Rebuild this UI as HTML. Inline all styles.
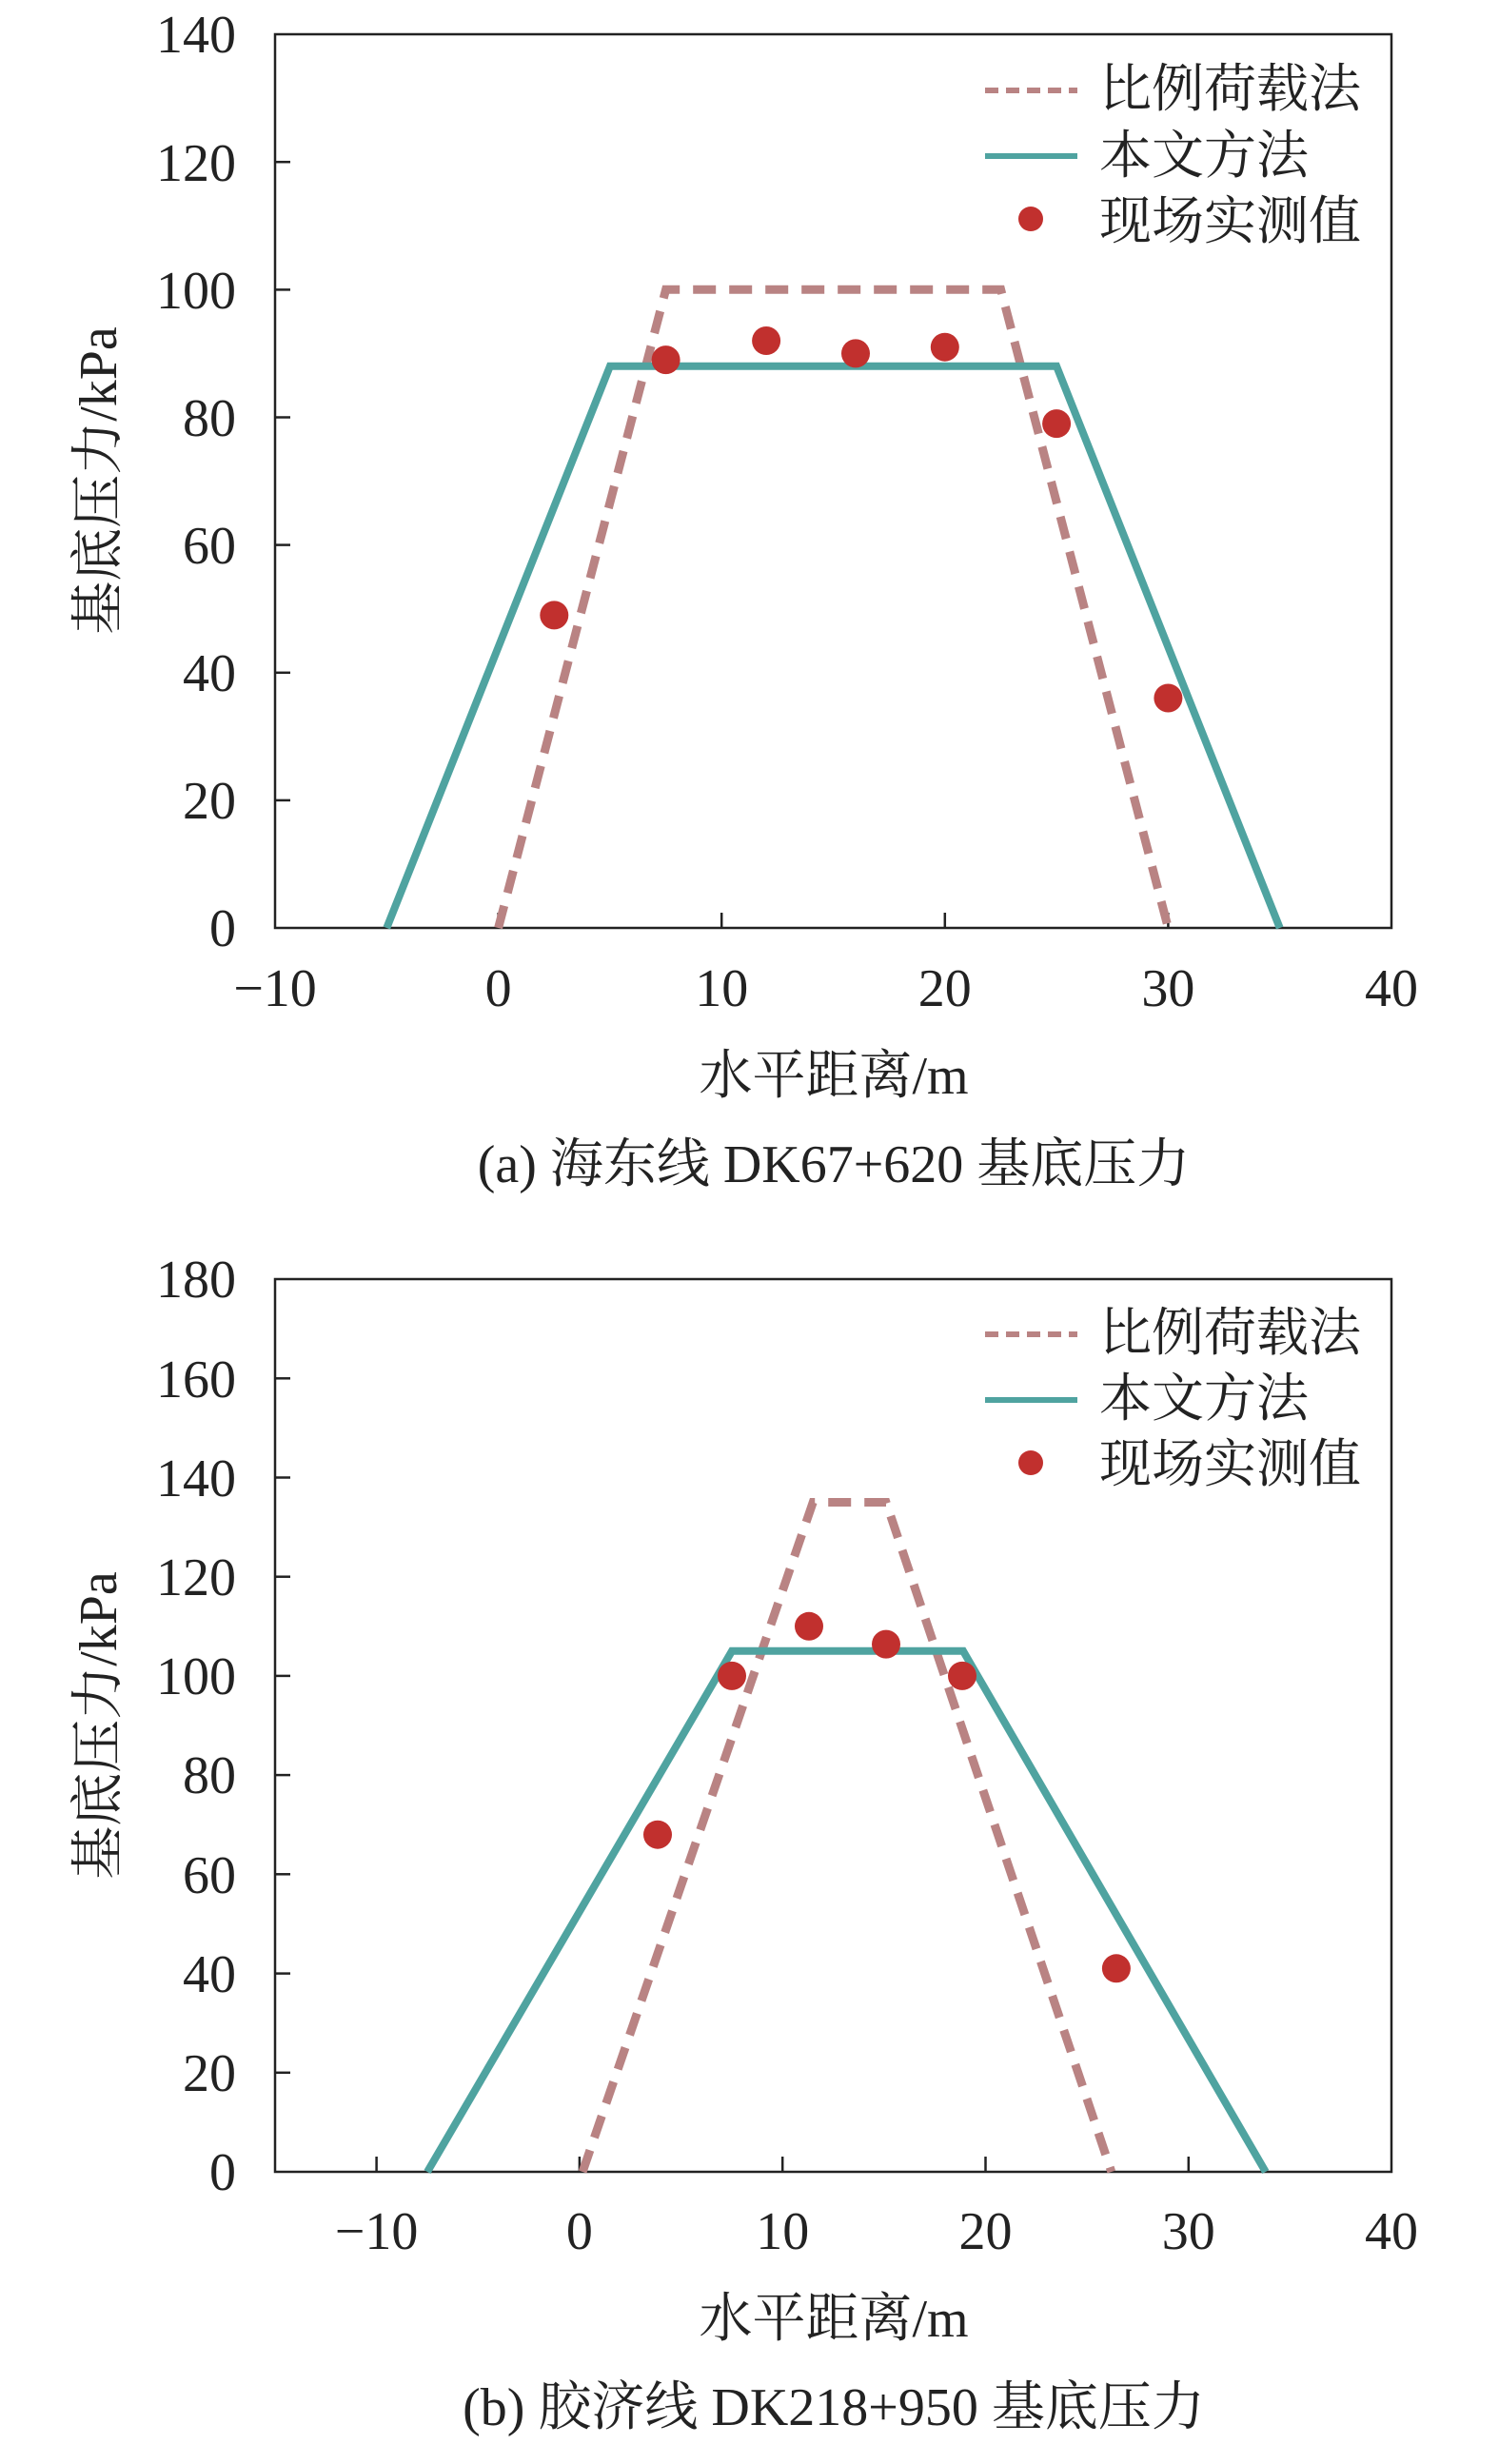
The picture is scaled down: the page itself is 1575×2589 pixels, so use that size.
<!DOCTYPE html>
<html><head><meta charset="utf-8"><style>
html,body{margin:0;padding:0;background:#fff}
svg{display:block}
text{font-family:"Liberation Serif","Noto Serif CJK SC","Noto Sans CJK SC",serif;fill:#222}
</style></head><body>
<svg width="1575" height="2589" viewBox="0 0 1575 2589" xmlns="http://www.w3.org/2000/svg">
<!-- Chart a -->
<g>
<rect x="289" y="36" width="1173" height="939" fill="none" stroke="#222" stroke-width="2.5"/>
<g stroke="#222" stroke-width="2.5">
<line x1="289" y1="840.9" x2="305" y2="840.9"/><line x1="289" y1="706.8" x2="305" y2="706.8"/>
<line x1="289" y1="572.6" x2="305" y2="572.6"/><line x1="289" y1="438.5" x2="305" y2="438.5"/>
<line x1="289" y1="304.4" x2="305" y2="304.4"/><line x1="289" y1="170.2" x2="305" y2="170.2"/>
<line x1="523.6" y1="975" x2="523.6" y2="959"/><line x1="758.2" y1="975" x2="758.2" y2="959"/>
<line x1="992.8" y1="975" x2="992.8" y2="959"/><line x1="1227.4" y1="975" x2="1227.4" y2="959"/>
</g>
<g font-size="56" text-anchor="end">
<text x="248" y="994">0</text><text x="248" y="860">20</text><text x="248" y="726">40</text>
<text x="248" y="592">60</text><text x="248" y="458">80</text><text x="248" y="324">100</text>
<text x="248" y="190">120</text><text x="248" y="55">140</text>
</g>
<g font-size="56" text-anchor="middle">
<text x="289" y="1057">−10</text><text x="523.6" y="1057">0</text><text x="758.2" y="1057">10</text>
<text x="992.8" y="1057">20</text><text x="1227.4" y="1057">30</text><text x="1462" y="1057">40</text>
</g>
<text x="876" y="1149" font-size="56" text-anchor="middle">水平距离/m</text>
<text x="876" y="1242" font-size="56" text-anchor="middle">(a) 海东线 DK67+620 基底压力</text>
<text transform="translate(122,505) rotate(-90)" font-size="56" text-anchor="middle">基底压力/kPa</text>
<polyline points="523.6,975 699.6,304.3 1051.6,304.3 1227.4,975" fill="none" stroke="#b98383" stroke-width="9" stroke-dasharray="24,14"/>
<polyline points="406.3,975 640.9,384.8 1110.1,384.8 1344.7,975" fill="none" stroke="#4fa3a0" stroke-width="8"/>
<g fill="#c1302e">
<circle cx="582.3" cy="646.4" r="15"/><circle cx="699.6" cy="378.1" r="15"/><circle cx="805.1" cy="358" r="15"/>
<circle cx="899" cy="371.4" r="15"/><circle cx="992.8" cy="364.7" r="15"/><circle cx="1110.1" cy="445.1" r="15"/>
<circle cx="1227.4" cy="733.5" r="15"/>
</g>
<line x1="1035" y1="95" x2="1132" y2="95" stroke="#b98383" stroke-width="6" stroke-dasharray="14,8"/>
<line x1="1035" y1="164" x2="1132" y2="164" stroke="#4fa3a0" stroke-width="6"/>
<circle cx="1083" cy="230" r="13" fill="#c1302e"/>
<g font-size="55"><text x="1155" y="112">比例荷载法</text><text x="1155" y="182">本文方法</text><text x="1155" y="251">现场实测值</text></g>
</g>
<!-- Chart b -->
<g>
<rect x="289" y="1344" width="1173" height="938" fill="none" stroke="#222" stroke-width="2.5"/>
<g stroke="#222" stroke-width="2.5">
<line x1="289" y1="2177.8" x2="305" y2="2177.8"/><line x1="289" y1="2073.6" x2="305" y2="2073.6"/>
<line x1="289" y1="1969.3" x2="305" y2="1969.3"/><line x1="289" y1="1865.1" x2="305" y2="1865.1"/>
<line x1="289" y1="1760.9" x2="305" y2="1760.9"/><line x1="289" y1="1656.7" x2="305" y2="1656.7"/>
<line x1="289" y1="1552.5" x2="305" y2="1552.5"/><line x1="289" y1="1448.3" x2="305" y2="1448.3"/>
<line x1="395.6" y1="2282" x2="395.6" y2="2266"/><line x1="608.9" y1="2282" x2="608.9" y2="2266"/>
<line x1="822.2" y1="2282" x2="822.2" y2="2266"/><line x1="1035.5" y1="2282" x2="1035.5" y2="2266"/>
<line x1="1248.8" y1="2282" x2="1248.8" y2="2266"/>
</g>
<g font-size="56" text-anchor="end">
<text x="248" y="2301">0</text><text x="248" y="2197">20</text><text x="248" y="2093">40</text>
<text x="248" y="1989">60</text><text x="248" y="1884">80</text><text x="248" y="1780">100</text>
<text x="248" y="1676">120</text><text x="248" y="1572">140</text><text x="248" y="1468">160</text>
<text x="248" y="1363">180</text>
</g>
<g font-size="56" text-anchor="middle">
<text x="395.6" y="2363">−10</text><text x="608.9" y="2363">0</text><text x="822.2" y="2363">10</text>
<text x="1035.5" y="2363">20</text><text x="1248.8" y="2363">30</text><text x="1462" y="2363">40</text>
</g>
<text x="876" y="2455" font-size="56" text-anchor="middle">水平距离/m</text>
<text x="876" y="2548" font-size="56" text-anchor="middle">(b) 胶济线 DK218+950 基底压力</text>
<text transform="translate(122,1813) rotate(-90)" font-size="56" text-anchor="middle">基底压力/kPa</text>
<polyline points="612.1,2282 854.2,1578.5 931,1578.5 1167.8,2282" fill="none" stroke="#b98383" stroke-width="9" stroke-dasharray="24,14"/>
<polyline points="449,2282 769,1734.8 1012,1734.8 1329.8,2282" fill="none" stroke="#4fa3a0" stroke-width="8"/>
<g fill="#c1302e">
<circle cx="691" cy="1927.7" r="15"/><circle cx="769" cy="1760.9" r="15"/><circle cx="850" cy="1708.8" r="15"/>
<circle cx="931" cy="1727.6" r="15"/><circle cx="1011" cy="1760.9" r="15"/><circle cx="1172.9" cy="2068.3" r="15"/>
</g>
<line x1="1035" y1="1402" x2="1132" y2="1402" stroke="#b98383" stroke-width="6" stroke-dasharray="14,8"/>
<line x1="1035" y1="1471" x2="1132" y2="1471" stroke="#4fa3a0" stroke-width="6"/>
<circle cx="1083" cy="1537" r="13" fill="#c1302e"/>
<g font-size="55"><text x="1155" y="1419">比例荷载法</text><text x="1155" y="1488">本文方法</text><text x="1155" y="1557">现场实测值</text></g>
</g>
</svg>
</body></html>
